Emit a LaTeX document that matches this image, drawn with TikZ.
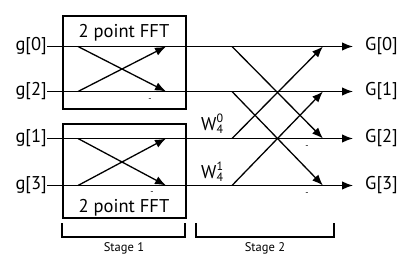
\documentclass[tikz,border=0pt]{standalone}
\usepackage{fontspec}
\setmainfont{PT Sans}
\usetikzlibrary{arrows.meta}
\newcommand{\twid}[2]{W\makebox[0pt][l]{\raisebox{7.5pt}{\fontsize{12}{12}\selectfont #1}}\raisebox{-3.5pt}{\fontsize{12}{12}\selectfont #2}}
\begin{document}
\begin{tikzpicture}[x=1pt,y=-1pt,
  lbl/.style={font=\fontsize{18.5}{22}\selectfont, inner sep=0pt},
  wire/.style={line width=1.3pt},
  arr/.style={wire,-{Latex[length=11pt,width=8.5pt]}},
  frame/.style={draw,line width=1.5pt},
  minus/.style={font=\fontsize{9}{9}\selectfont, inner sep=0pt},
  stagelbl/.style={font=\fontsize{12.5}{14}\selectfont, inner sep=0pt}]
\useasboundingbox (0,0) rectangle (416,276);
% boxes
\node[frame, minimum width=123pt, minimum height=93pt, anchor=north west, inner sep=0pt] (fft1) at (62,15) {};
\node[frame, minimum width=123pt, minimum height=94pt, anchor=north west, inner sep=0pt] (fft2) at (62,123) {};
\node[lbl, anchor=base] (t1) at (124,37) {2 point FFT};
\node[lbl, anchor=base] (t2) at (124,212) {2 point FFT};
% input labels
\node[lbl, anchor=east] (g0) at (47,46.5) {g[0]};
\node[lbl, anchor=east] (g2) at (47,91.5) {g[2]};
\node[lbl, anchor=east] (g1) at (47,138.5) {g[1]};
\node[lbl, anchor=east] (g3) at (47,185.5) {g[3]};
% output labels
\node[lbl, anchor=west] (G0) at (365,46.5) {G[0]};
\node[lbl, anchor=west] (G1) at (365,91.5) {G[1]};
\node[lbl, anchor=west] (G2) at (365,138.5) {G[2]};
\node[lbl, anchor=west] (G3) at (365,185.5) {G[3]};
% horizontal lines
\draw[arr, shorten >=12pt] (g0.east) -- (G0.west);
\draw[arr, shorten >=12pt] (g2.east) -- (G1.west);
\draw[arr, shorten >=12pt] (g1.east) -- (G2.west);
\draw[arr, shorten >=12pt] (g3.east) -- (G3.west);
% stage 1 butterflies
\coordinate (a0) at (78,46.5);
\coordinate (a2) at (78,91.5);
\coordinate (a1) at (78,138.5);
\coordinate (a3) at (78,185.5);
\coordinate (b0) at (166,46.5);
\coordinate (b2) at (166,91.5);
\coordinate (b1) at (166,138.5);
\coordinate (b3) at (166,185.5);
\draw[arr] (a0) -- (b2);
\draw[arr] (a2) -- (b0);
\draw[arr] (a1) -- (b3);
\draw[arr] (a3) -- (b1);
% stage 2 butterflies
\coordinate (c0) at (232,46.5);
\coordinate (c1) at (232,91.5);
\coordinate (c2) at (232,138.5);
\coordinate (c3) at (232,185.5);
\coordinate (d0) at (323,46.5);
\coordinate (d1) at (323,91.5);
\coordinate (d2) at (323,138.5);
\coordinate (d3) at (323,185.5);
\draw[arr] (c0) -- (d2);
\draw[arr] (c1) -- (d3);
\draw[arr] (c2) -- (d0);
\draw[arr] (c3) -- (d1);
% twiddle factors
\node[lbl, anchor=base west] (w0) at (201,130) {\twid{0}{4}};
\node[lbl, anchor=base west] (w1) at (201,178) {\twid{1}{4}};
% minus signs
\node[minus] (m1) at (150,100) {-};
\node[minus] (m2) at (152,193) {-};
\node[minus] (m3) at (307,147) {-};
\node[minus] (m4) at (307,194) {-};
% stage brackets
\draw[frame] (62,223) -- (62,237) -- (185,237) -- (185,223);
\draw[frame] (196,223) -- (196,237) -- (334,237) -- (334,223);
\node[stagelbl] (s1) at (124,248) {Stage 1};
\node[stagelbl] (s2) at (265,248) {Stage 2};
\end{tikzpicture}
\end{document}
